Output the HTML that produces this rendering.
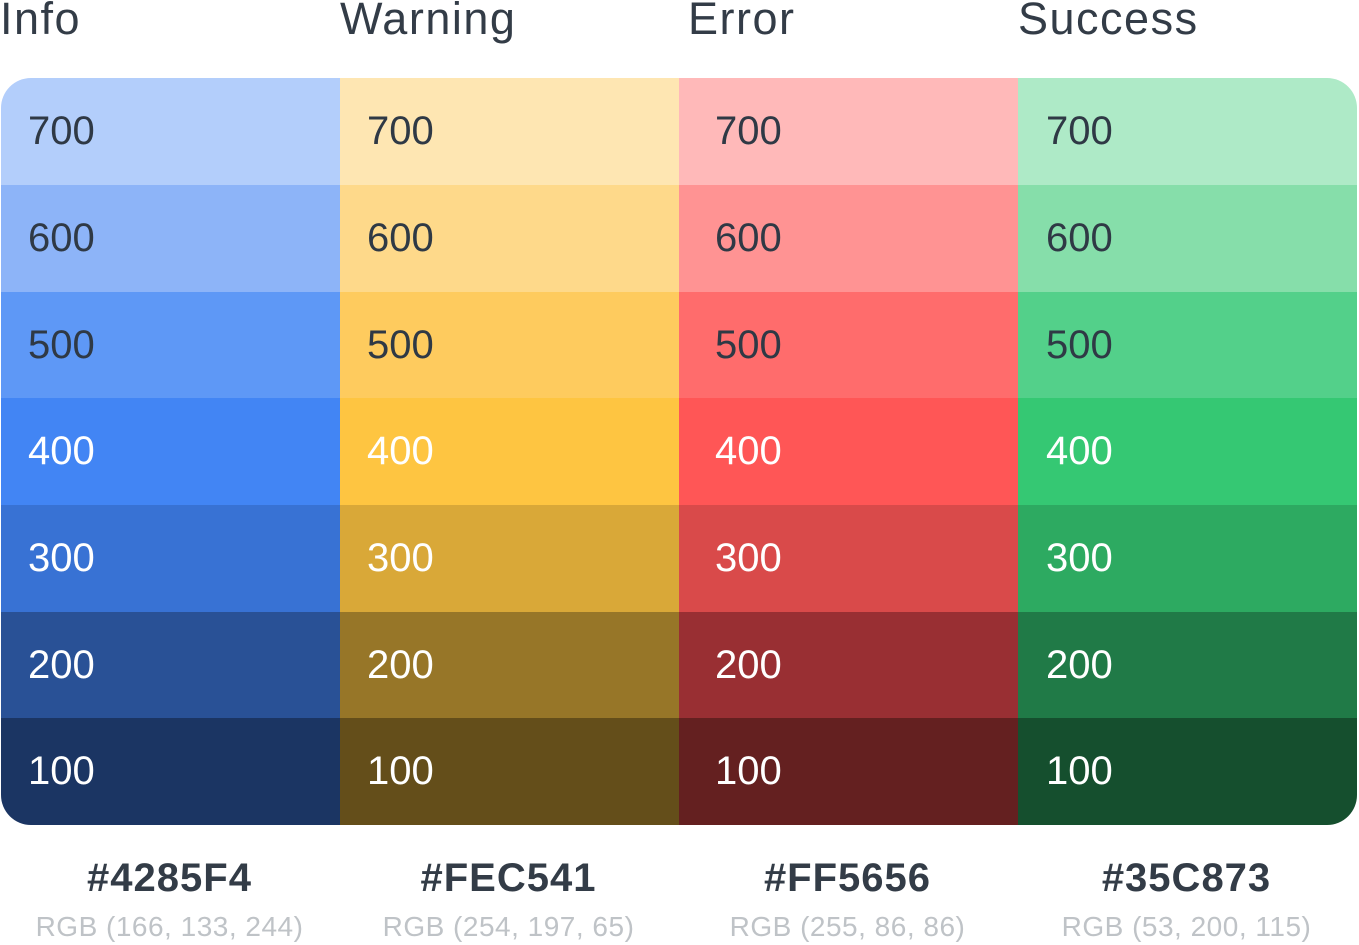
<!DOCTYPE html>
<html><head><meta charset="utf-8"><style>
body{margin:0;width:1359px;height:945px;background:#fff;font-family:"Liberation Sans",sans-serif;position:relative;overflow:hidden}
.h{position:absolute;top:-7px;font-size:45px;letter-spacing:1.5px;color:#333c47}
.grid{position:absolute;left:1px;top:78px;width:1356px;height:747px;border-radius:30px;overflow:hidden}
.c{position:absolute;box-sizing:border-box;padding-left:27px;font-size:40px;display:flex;align-items:center}
.hex{position:absolute;top:856px;width:339px;text-align:center;font-size:40px;letter-spacing:1px;font-weight:bold;color:#333c47}
.rgb{position:absolute;top:911px;width:339px;text-align:center;font-size:28px;letter-spacing:0.5px;color:#bfc3c7}
</style></head><body>
<div class="h" style="left:0">Info</div>
<div class="h" style="left:340px">Warning</div>
<div class="h" style="left:688px">Error</div>
<div class="h" style="left:1018px">Success</div>
<div class="grid" id="grid"></div>
<script>
const names=['info','warning','error','success'];
const shades=['700','600','500','400','300','200','100'];
const colors=[
['#b3cefb','#8db4f8','#5e98f6','#4285f4','#3872d4','#295196','#1b3563'],
['#fee6b2','#fed98a','#fecb5e','#fec541','#d9a838','#977628','#644e1a'],
['#ffb9b9','#ff9393','#ff6c6c','#ff5656','#d94a4a','#992f33','#642020'],
['#aeeac7','#86deaa','#53d08a','#35c873','#2daa61','#207a47','#154f2e']];
const hexes=['#4285F4','#FEC541','#FF5656','#35C873'];
const rgbs=['RGB (166, 133, 244)','RGB (254, 197, 65)','RGB (255, 86, 86)','RGB (53, 200, 115)'];
const g=document.getElementById('grid');
const colX=[0,339,678,1017],colW=[339,339,339,339];
const rowY=[0,107,214,320,427,534,640],rowH=[107,107,106,107,107,106,107];
for(let i=0;i<4;i++){
 for(let j=0;j<7;j++){
  const d=document.createElement('div');d.className='c';
  
  
  d.style.cssText=`left:${colX[i]}px;top:${rowY[j]}px;width:${colW[i]}px;height:${rowH[j]}px;background:${colors[i][j]};color:${j<3?'#2f3945':'#fff'}`;
  if(i==2)d.style.paddingLeft='36px';
  if(i==3)d.style.paddingLeft='28px';
  d.textContent=shades[j];g.appendChild(d);
 }
 const h=document.createElement('div');h.className='hex';
 
 
 h.style.left=colX[i]+'px';h.textContent=hexes[i];document.body.appendChild(h);
 const r=document.createElement('div');r.className='rgb';
 
 
 r.style.left=colX[i]+'px';r.textContent=rgbs[i];document.body.appendChild(r);
}
</script>
</body></html>
